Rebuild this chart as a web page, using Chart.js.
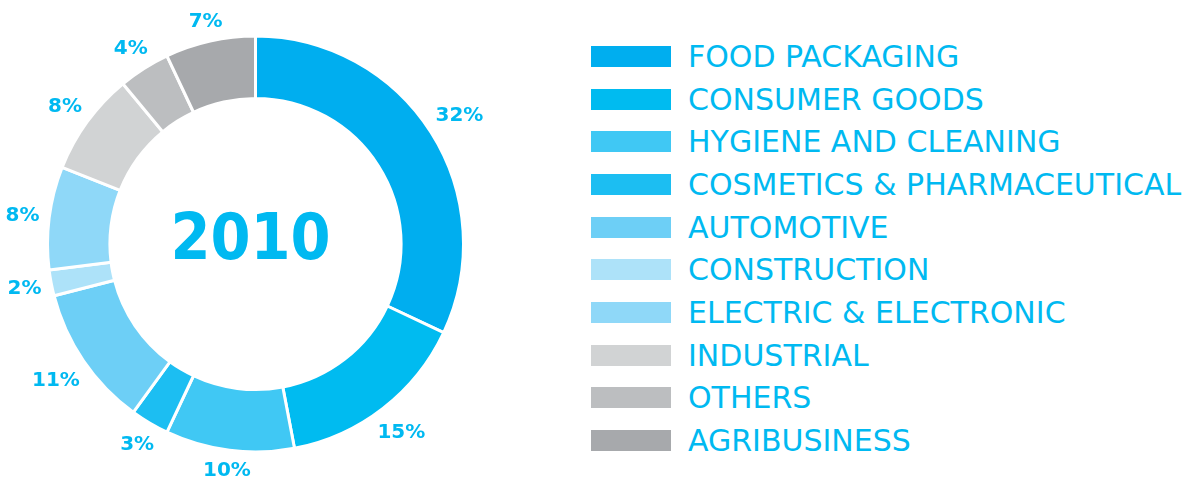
<!DOCTYPE html>
<html>
<head>
<meta charset="utf-8">
<script src="https://cdn.jsdelivr.net/npm/chart.js@4/dist/chart.umd.min.js"></script>
<style>
    body {
        margin: 0;
        background: #ffffff;
        width: 1184px;
        height: 486px;
        position: relative;
        overflow: hidden;
    }
    #chart-box {
        position: absolute;
        left: 0;
        top: 0;
        width: 511px;
        height: 486px;
    }
    #legend {
        position: absolute;
        left: 591px;
        top: 35px;
        margin: 0;
        padding: 0;
        list-style: none;
        font-family: "DejaVu Sans", sans-serif;
        font-size: 30px;
        color: #00b9f1;
    }
    #legend li {
        display: flex;
        align-items: center;
        height: 42.7px;
        white-space: nowrap;
    }
    #legend .swatch {
        display: inline-block;
        width: 80px;
        height: 21px;
        margin-right: 17px;
    }
</style>
</head>
<body>
<div id="chart-box"><canvas id="sectorsChart"></canvas></div>
<ul id="legend"></ul>

<script>
const sectors = [
    'FOOD PACKAGING',
    'CONSUMER GOODS',
    'HYGIENE AND CLEANING',
    'COSMETICS & PHARMACEUTICAL',
    'AUTOMOTIVE',
    'CONSTRUCTION',
    'ELECTRIC & ELECTRONIC',
    'INDUSTRIAL',
    'OTHERS',
    'AGRIBUSINESS'
];
const shares = [32, 15, 10, 3, 11, 2, 8, 8, 4, 7];
const sectorColors = [
    '#00aeef', '#00bbf0', '#40c8f4', '#1cbef2', '#6dcff6',
    '#ade2f9', '#8fd8f8', '#d1d3d4', '#bcbec0', '#a7a9ac'
];
const yearLabel = '2010';

const textBlue = '#00b9f1';

// percent labels just outside each slice, plus the year in the hole
const ringText = {
    id: 'ringText',
    afterDraw(chart) {
        const ctx = chart.ctx;
        const arcs = chart.getDatasetMeta(0).data;
        const values = chart.data.datasets[0].data;
        ctx.save();
        ctx.fillStyle = textBlue;
        ctx.font = 'bold 20px "DejaVu Sans"';
        ctx.textAlign = 'center';
        ctx.textBaseline = 'middle';
        arcs.forEach((arc, i) => {
            const p = arc.getProps(['x', 'y', 'startAngle', 'endAngle', 'outerRadius'], true);
            const mid = (p.startAngle + p.endAngle) / 2;
            const dx = Math.cos(mid);
            const dy = Math.sin(mid);
            const text = values[i] + '%';
            const w = ctx.measureText(text).width;
            const r = p.outerRadius + 9 + (w / 2) * Math.abs(dx) + 8 * Math.abs(dy);
            ctx.fillText(text, p.x + dx * r, p.y + dy * r + 1);
        });

        const first = arcs[0];
        ctx.font = 'bold 64px "DejaVu Sans Condensed"';
        ctx.textBaseline = 'alphabetic';
        ctx.fillText(yearLabel, first.x - 5, first.y - 8 + 23);
        ctx.restore();
    }
};

const sectorsChart = new Chart(document.getElementById('sectorsChart'), {
    type: 'doughnut',
    data: {
        labels: sectors,
        datasets: [{
            data: shares,
            backgroundColor: sectorColors,
            borderColor: '#ffffff',
            borderWidth: 3
        }]
    },
    options: {
        responsive: true,
        maintainAspectRatio: false,
        animation: false,
        cutout: '70%',
        layout: {
            padding: { top: 34.5, bottom: 32.5, left: 0, right: 0 }
        },
        plugins: {
            legend: { display: false },
            tooltip: { enabled: false }
        }
    },
    plugins: [ringText]
});

// legend rows next to the ring
const legendList = document.getElementById('legend');
sectors.forEach((name, i) => {
    const li = document.createElement('li');
    li.innerHTML = `<span class="swatch" style="background:${sectorColors[i]}"></span><span>${name}</span>`;
    legendList.appendChild(li);
});
</script>
</body>
</html>
